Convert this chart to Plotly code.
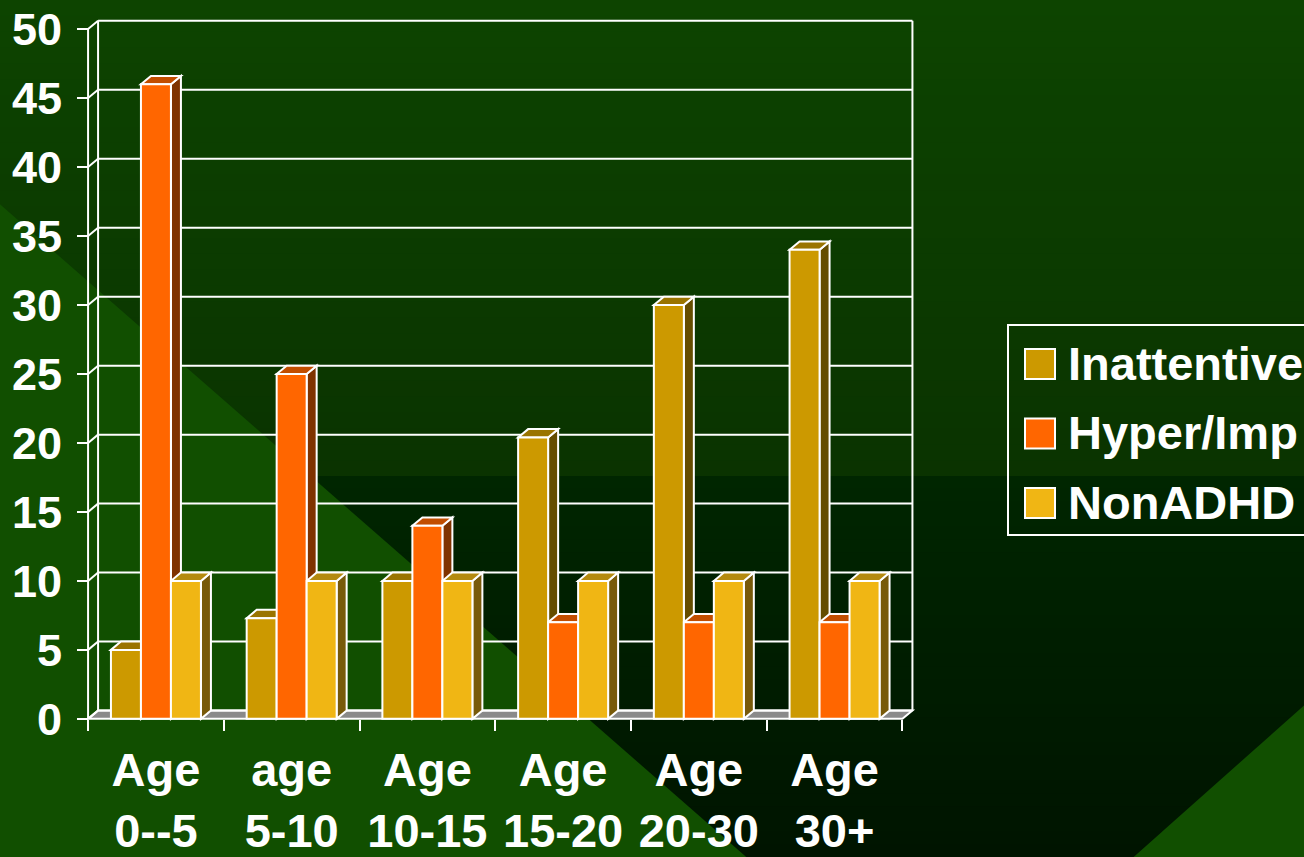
import plotly.graph_objects as go

# ---- data -------------------------------------------------------------
categories = ["Age<br>0--5", "age<br>5-10", "Age<br>10-15",
              "Age<br>15-20", "Age<br>20-30", "Age<br>30+"]
series_names = ["Inattentive", "Hyper/Imp", "NonADHD"]
inattentive = [5, 7.3, 10, 20.4, 30, 34]
hyper_imp = [46, 25, 14, 7, 7, 7]
non_adhd = [10, 10, 10, 10, 10, 10]
y_ticks = [0, 5, 10, 15, 20, 25, 30, 35, 40, 45, 50]

# ---- styling ----------------------------------------------------------
FONT = "Liberation Sans, Arial, sans-serif"
FONT_SIZE = 47
front_colors = ["#CC9900", "#FF6600", "#F0B614"]
top_colors = ["#9A7400", "#C24E00", "#B48A0F"]
side_colors = ["#654D00", "#7F3300", "#785A0A"]
FLOOR = "#8A8A8A"
EDGE = "white"
LW = 2

FIG_W, FIG_H = 1304, 857
L, R, T, B = 84, 388, 18, 134
PW, PH = FIG_W - L - R, FIG_H - T - B
X_RANGE = [-0.53, 5.60]
Y_RANGE = [-0.3, 50.8]
ux = PW / (X_RANGE[1] - X_RANGE[0])   # px per category unit
uy = PH / (Y_RANGE[1] - Y_RANGE[0])   # px per value unit
DX = 10 / ux                          # depth offset, x (axis units)
DY = 8.3 / uy                         # depth offset, y (axis units)
BAR_W = 0.221
X_LO, X_HI = -0.5, len(categories) - 0.5
Y_TOP = y_ticks[-1]


def px_x(px):
    return (px - L) / PW


def px_y(py):
    return (T + PH - py) / PH


def hexmix(c1, c2, t):
    a = [int(c1[i:i + 2], 16) for i in (1, 3, 5)]
    b = [int(c2[i:i + 2], 16) for i in (1, 3, 5)]
    return "#" + "".join(f"{round(a[k] + (b[k] - a[k]) * t):02x}" for k in range(3))


shapes = []

# ---- slide background -------------------------------------------------
def band_gradient(y0, y1, c0, c1, n):
    for i in range(n):
        ya = y0 + (y1 - y0) * i / n
        yb = y0 + (y1 - y0) * (i + 1) / n + 1
        shapes.append(dict(type="rect", xref="paper", yref="paper", layer="below",
                           x0=px_x(-5), x1=px_x(FIG_W + 5), y0=px_y(yb), y1=px_y(ya),
                           line=dict(width=0), fillcolor=hexmix(c0, c1, (i + 0.5) / n)))


band_gradient(0, 476, "#0D4400", "#0A3300", 30)
band_gradient(476, FIG_H, "#002600", "#001400", 30)


def paper_path(points):
    return "M" + " L".join(f"{px_x(a):.5f},{px_y(b):.5f}" for a, b in points) + " Z"


for pts in ([(-5, 200), (752, FIG_H + 5), (-5, FIG_H + 5)],
            [(1128, FIG_H + 5), (FIG_W + 5, 701), (FIG_W + 5, FIG_H + 5)]):
    shapes.append(dict(type="path", xref="paper", yref="paper", layer="below",
                       path=paper_path(pts), line=dict(width=0), fillcolor="#114F00"))

# ---- 3-D frame: back wall, floor, left wall ---------------------------
def data_path(points):
    return "M" + " L".join(f"{a:.5f},{b:.5f}" for a, b in points) + " Z"


line_kw = dict(xref="x", yref="y", layer="below", line=dict(color=EDGE, width=LW))

# floor
shapes.append(dict(type="path", xref="x", yref="y", layer="below",
                   path=data_path([(X_LO, 0), (X_HI, 0), (X_HI + DX, DY), (X_LO + DX, DY)]),
                   fillcolor=FLOOR, line=dict(color=EDGE, width=LW)))
# back-wall gridlines and left-wall connectors
for v in y_ticks:
    shapes.append(dict(type="line", x0=X_LO + DX, x1=X_HI + DX, y0=v + DY, y1=v + DY, **line_kw))
    shapes.append(dict(type="line", x0=X_LO, x1=X_LO + DX, y0=v, y1=v + DY, **line_kw))
# wall edges
shapes.append(dict(type="line", x0=X_LO + DX, x1=X_LO + DX, y0=DY, y1=Y_TOP + DY, **line_kw))
shapes.append(dict(type="line", x0=X_HI + DX, x1=X_HI + DX, y0=DY, y1=Y_TOP + DY, **line_kw))
shapes.append(dict(type="line", x0=X_LO, x1=X_LO, y0=0, y1=Y_TOP, **line_kw))

# ---- bar tops and sides (drawn left to right, behind the front faces) ---
series = [inattentive, hyper_imp, non_adhd]
offsets = [-1.5 * BAR_W + k * BAR_W for k in range(len(series))]
for j in range(len(categories)):
    for k, vals in enumerate(series):
        v = vals[j]
        x0 = j + offsets[k]
        x1 = x0 + BAR_W
        shapes.append(dict(type="path", xref="x", yref="y", layer="below",
                           path=data_path([(x1, 0), (x1 + DX, DY), (x1 + DX, v + DY), (x1, v)]),
                           fillcolor=side_colors[k], line=dict(color=EDGE, width=LW)))
        shapes.append(dict(type="path", xref="x", yref="y", layer="below",
                           path=data_path([(x0, v), (x0 + DX, v + DY), (x1 + DX, v + DY), (x1, v)]),
                           fillcolor=top_colors[k], line=dict(color=EDGE, width=LW)))

# ---- front faces ------------------------------------------------------
fig = go.Figure()
for k, vals in enumerate(series):
    fig.add_trace(go.Bar(
        x=categories, y=vals, name=series_names[k],
        width=BAR_W, offset=offsets[k],
        marker=dict(color=front_colors[k], line=dict(color=EDGE, width=LW)),
        showlegend=False, hoverinfo="x+y+name",
    ))

# ---- legend box -------------------------------------------------------
annotations = []
shapes.append(dict(type="rect", xref="paper", yref="paper", layer="above",
                   x0=px_x(1008), x1=px_x(1330), y0=px_y(535), y1=px_y(325),
                   line=dict(color=EDGE, width=LW), fillcolor="rgba(0,0,0,0)"))
for k, name in enumerate(series_names):
    cy = 364 + 69.5 * k
    shapes.append(dict(type="rect", xref="paper", yref="paper", layer="above",
                       x0=px_x(1025), x1=px_x(1055), y0=px_y(cy + 15), y1=px_y(cy - 15),
                       line=dict(color=EDGE, width=LW), fillcolor=front_colors[k]))
    annotations.append(dict(xref="paper", yref="paper", x=px_x(1066), y=px_y(cy - 1),
                            xanchor="left", yanchor="middle", showarrow=False, text=name,
                            font=dict(family=FONT, size=FONT_SIZE, color="white", weight="bold")))

x_tick_font = dict(family=FONT, size=FONT_SIZE, color="white", weight="bold")
y_tick_font = dict(family=FONT, size=45, color="white", weight="bold")
fig.update_layout(
    width=FIG_W, height=FIG_H,
    margin=dict(l=L, r=R, t=T, b=B, pad=0, autoexpand=False),
    paper_bgcolor="#0B3A00", plot_bgcolor="rgba(0,0,0,0)",
    barmode="overlay",
    shapes=shapes, annotations=annotations,
    xaxis=dict(type="category", range=X_RANGE, categoryorder="array", categoryarray=categories,
               tickson="boundaries", ticks="outside", ticklen=11, tickwidth=LW, tickcolor=EDGE,
               showgrid=False, zeroline=False, showline=False, tickangle=0, automargin=False,
               anchor="free", position=(0 - Y_RANGE[0]) / (Y_RANGE[1] - Y_RANGE[0]),
               tickfont=x_tick_font, ticklabelstandoff=19, fixedrange=True),
    yaxis=dict(range=Y_RANGE, tickvals=y_ticks, ticks="outside", ticklen=11, tickwidth=LW,
               tickcolor=EDGE, showgrid=False, zeroline=False, showline=False, automargin=False,
               anchor="free", position=(X_LO - X_RANGE[0]) / (X_RANGE[1] - X_RANGE[0]),
               tickfont=y_tick_font, ticklabelstandoff=6, fixedrange=True),
    showlegend=False,
)

fig.write_html("out.html")
